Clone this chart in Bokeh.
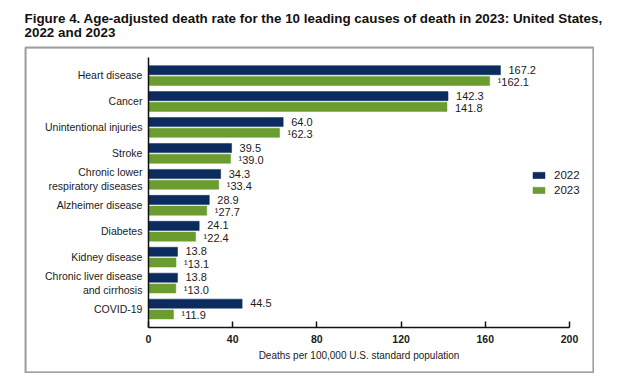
from bokeh.plotting import figure
from bokeh.models import (Range1d, FixedTicker, ColumnDataSource, Legend, LegendItem,
                          Label, Spacer, BoxAnnotation)
from bokeh.layouts import column, row
from bokeh.transform import dodge
from bokeh.embed import file_html
from bokeh.resources import INLINE
from bokeh.core.properties import value

causes = ["Heart disease", "Cancer", "Unintentional injuries", "Stroke",
          "Chronic lower\nrespiratory diseases", "Alzheimer disease", "Diabetes",
          "Kidney disease", "Chronic liver disease\nand cirrhosis", "COVID-19"]
rate_2022 = [167.2, 142.3, 64.0, 39.5, 34.3, 28.9, 24.1, 13.8, 13.8, 44.5]
rate_2023 = [162.1, 141.8, 62.3, 39.0, 33.4, 27.7, 22.4, 13.1, 13.0, 11.9]
note_2023 = ["1", "", "1", "1", "1", "1", "1", "1", "1", "1"]
x_ticks = [0, 40, 80, 120, 160, 200]

title_line1 = "Figure 4. Age-adjusted death rate for the 10 leading causes of death in 2023: United States,"
title_line2 = "2022 and 2023"
x_label = "Deaths per 100,000 U.S. standard population"

NAVY = "#0c2b5e"
GREEN = "#6b9c2f"
TXT = "#1a1a1a"
FONT = "Liberation Sans"

# ---- title strip ----
tf = figure(width=620, height=46, output_backend="svg", toolbar_location=None,
            x_range=Range1d(0, 620), y_range=Range1d(46, 0),
            x_axis_location=None, y_axis_location=None, min_border=0)
tf.outline_line_color = None
tf.xgrid.grid_line_color = None
tf.ygrid.grid_line_color = None
for t, yb in [(title_line1, 18), (title_line2, 32)]:
    tf.add_layout(Label(x=24, y=yb, text=t, text_font=FONT, text_font_style="bold",
                        text_font_size="13.4px", text_color="#111111",
                        text_baseline="alphabetic", text_align="left"))

# ---- main chart: the plot frame is the grey framing box, axes sit inside it ----
n = len(causes)
pos = [n - 1 - i for i in range(n)]          # top category highest
sup = {"1": "\u00b9", "": ""}
src = ColumnDataSource(dict(
    pos=pos,
    r22=rate_2022,
    r23=rate_2023,
    t22=[f"{v:.1f}" for v in rate_2022],
    t23=[sup[k] + f"{v:.1f}" for k, v in zip(note_2023, rate_2023)],
))

X_LO, X_HI = -58.4, 211.4
Y_LO, Y_HI = -2.448, 10.079       # view extent incl. space for tick labels
AX_LO, AX_HI = -0.715, 9.694      # extent of the value axis line

p = figure(width=570, height=327, output_backend="svg", toolbar_location=None,
           x_range=Range1d(X_LO, X_HI), y_range=Range1d(Y_LO, Y_HI), min_border=1)
p.outline_line_color = "#a0a0a0"
p.outline_line_width = 2
p.xgrid.grid_line_color = None
p.ygrid.grid_line_color = None
p.background_fill_color = "white"
p.border_fill_color = "white"

# framing box, drawn just inside the frame
p.add_layout(BoxAnnotation(left=X_LO + 0.3, right=X_HI - 0.3, bottom=Y_LO + 0.03, top=Y_HI - 0.03,
                           fill_alpha=0, line_color="#a6a6a6", line_width=1.5))

r1 = p.hbar(y=dodge("pos", 0.205), right="r22", left=0, height=0.35,
            source=src, fill_color=NAVY, line_color=NAVY, line_width=0.5)
r2 = p.hbar(y=dodge("pos", -0.21), right="r23", left=0, height=0.35,
            source=src, fill_color=GREEN, line_color=GREEN, line_width=0.5)

p.text(x="r22", y=dodge("pos", 0.22), text="t22", source=src,
       x_offset=8, text_baseline="middle", text_align="left", text_font=value(FONT),
       text_font_size="11px", text_color=TXT)
p.text(x="r23", y=dodge("pos", -0.25), text="t23", source=src,
       x_offset=8, text_baseline="middle", text_align="left", text_font=value(FONT),
       text_font_size="11px", text_color=TXT)

xa = p.xaxis[0]
xa.fixed_location = AX_LO
xa.ticker = FixedTicker(ticks=x_ticks)
xa.bounds = (0, 200)
xa.axis_label = x_label
xa.axis_label_text_font = FONT
xa.axis_label_text_font_style = "normal"
xa.axis_label_text_font_size = "10px"
xa.axis_label_text_color = TXT
xa.axis_label_standoff = 4
xa.major_label_text_font = FONT
xa.major_label_text_font_style = "bold"
xa.major_label_text_font_size = "10.5px"
xa.major_label_text_color = TXT
xa.major_label_standoff = 7
xa.major_tick_in = 6
xa.major_tick_out = 0
xa.minor_tick_line_color = None
xa.axis_line_color = "#111111"
xa.axis_line_width = 1.5
xa.major_tick_line_color = "#111111"
xa.major_tick_line_width = 1.5

ya = p.yaxis[0]
ya.fixed_location = 0
ya.ticker = FixedTicker(ticks=pos)
ya.major_label_overrides = {k: c for k, c in zip(pos, causes)}
ya.bounds = (AX_LO, AX_HI)
ya.major_tick_line_color = None
ya.minor_tick_line_color = None
ya.major_tick_in = 0
ya.major_tick_out = 0
ya.minor_tick_in = 0
ya.minor_tick_out = 0
ya.axis_line_color = "#111111"
ya.axis_line_width = 1.5
ya.major_label_text_font = FONT
ya.major_label_text_font_size = "10.5px"
ya.major_label_text_color = TXT
ya.major_label_standoff = 6

legend = Legend(items=[LegendItem(label="2022", renderers=[r1]),
                       LegendItem(label="2023", renderers=[r2])],
                location=(506, 175), orientation="vertical",
                glyph_width=15, glyph_height=8, label_height=15, label_standoff=8,
                padding=0, margin=0, spacing=0,
                border_line_color=None, background_fill_alpha=0,
                label_text_font=FONT, label_text_font_size="11.5px", label_text_color=TXT)
p.add_layout(legend)

layout = column(tf, row(Spacer(width=24, height=327), p))
open("out.html", "w").write(file_html(layout, INLINE))
